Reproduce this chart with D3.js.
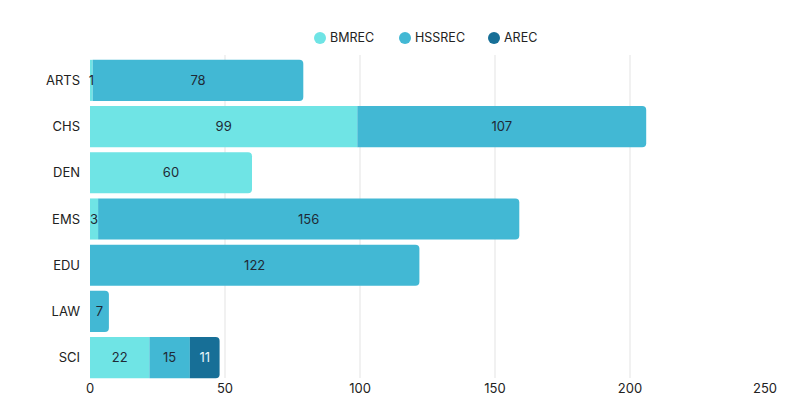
<!DOCTYPE html>
<html><head><meta charset="utf-8">
<script src="https://cdn.jsdelivr.net/npm/d3@7"></script>
<style>body{margin:0;background:#fff;font-family:Inter,"Open Sans",sans-serif;}</style>
</head><body>
<svg id="c" width="799" height="408"></svg>
<script>
const categories = ["ARTS","CHS","DEN","EMS","EDU","LAW","SCI"];
const seriesNames = ["BMREC","HSSREC","AREC"];
const BMREC = [1,99,60,3,0,0,22];
const HSSREC = [78,107,0,156,122,7,15];
const AREC = [0,0,0,0,0,0,11];
const xTicks = [0,50,100,150,200,250];
const colors = ["#6fe4e5","#42b8d4","#176f97"];
const labelColors = ["#1f2a36","#1f2a36","#e6f4fa"];

const svg = d3.select("#c");
const x = d3.scaleLinear().domain([0,250]).range([90,765]);
const y = d3.scaleBand().domain(categories).range([58,380]).paddingInner(0.11).paddingOuter(0.04);

// grid
svg.append("g").selectAll("line").data(xTicks.filter(t=>t>0&&t<250)).join("line")
  .attr("x1",d=>x(d)).attr("x2",d=>x(d)).attr("y1",55).attr("y2",378)
  .attr("stroke","#e3e3e3").attr("stroke-width",1);

const seriesVals = [BMREC,HSSREC,AREC];
const rows = categories.map((c,i)=>{
  let acc=0; const segs=[];
  seriesVals.forEach((arr,s)=>{ if(arr[i]>0){ segs.push({c, s, v:arr[i], x0:acc, x1:acc+arr[i]}); } acc+=arr[i]; });
  if(segs.length) segs[segs.length-1].last=true;
  return segs;
});
const segs = rows.flat();
const r=4;
function segPath(d){
  const x0=x(d.x0), x1=x(d.x1), y0=y(d.c), h=y.bandwidth(), y1=y0+h;
  if(!d.last) return `M${x0},${y0}H${x1}V${y1}H${x0}Z`;
  const rr=Math.min(r,(x1-x0));
  return `M${x0},${y0}H${x1-rr}Q${x1},${y0} ${x1},${y0+rr}V${y1-rr}Q${x1},${y1} ${x1-rr},${y1}H${x0}Z`;
}
svg.append("g").selectAll("path").data(segs).join("path")
  .attr("d",segPath).attr("fill",d=>colors[d.s]);

svg.append("g").selectAll("text").data(segs).join("text")
  .attr("x",d=>(x(d.x0)+x(d.x1))/2).attr("y",d=>y(d.c)+y.bandwidth()/2)
  .attr("dy","0.35em").attr("text-anchor","middle")
  .attr("font-size",13).attr("fill",d=>labelColors[d.s]).text(d=>d.v);

// y labels
svg.append("g").selectAll("text").data(categories).join("text")
  .attr("x",80).attr("y",d=>y(d)+y.bandwidth()/2).attr("dy","0.35em")
  .attr("text-anchor","end").attr("font-size",13).attr("fill","#222").text(d=>d);

// x labels
svg.append("g").selectAll("text").data(xTicks).join("text")
  .attr("x",d=>x(d)).attr("y",388).attr("dy","0.35em")
  .attr("text-anchor","middle").attr("font-size",13).attr("fill","#222").text(d=>d);

// legend
const legX=[320,405,494];
const lg=svg.append("g").selectAll("g").data(seriesNames).join("g")
  .attr("transform",(d,i)=>`translate(${legX[i]},38)`);
lg.append("circle").attr("r",6).attr("fill",(d,i)=>colors[i]);
lg.append("text").attr("x",10).attr("dy","0.35em").attr("font-size",12.5).attr("fill","#222").text(d=>d);
</script>
</body></html>
